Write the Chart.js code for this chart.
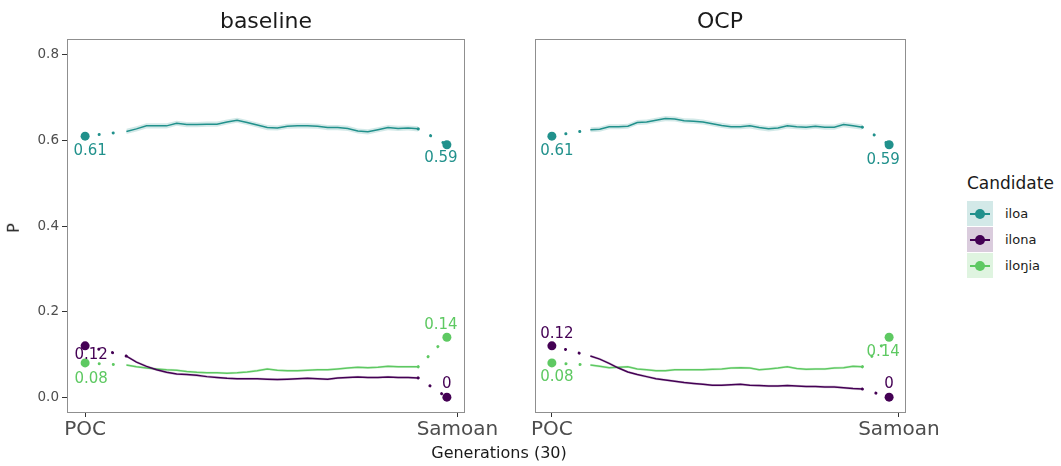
<!DOCTYPE html>
<html>
<head>
<meta charset="utf-8">
<script src="https://cdn.jsdelivr.net/npm/chart.js@4.4.0/dist/chart.umd.min.js"></script>
<style>
body{margin:0;background:#fff;font-family:"DejaVu Sans",sans-serif;}
#wrap{position:relative;width:1061px;height:466px;overflow:hidden;}
canvas{position:absolute;top:0;}
.ttl{position:absolute;top:8px;font-size:22px;line-height:26px;color:#1a1a1a;transform:translateX(-50%);white-space:nowrap;}
#ytitle{position:absolute;left:9px;top:219px;font-size:16px;line-height:18px;transform:rotate(-90deg);color:#1a1a1a;}
#xtitle{position:absolute;left:499px;top:443px;font-size:16px;line-height:20px;transform:translateX(-50%);color:#1a1a1a;white-space:nowrap;}
#legend{position:absolute;left:967px;top:171px;}
#legend .lt{font-size:17px;line-height:24px;color:#1a1a1a;margin-bottom:5px;}
#legend .row{display:flex;align-items:center;height:26px;}
#legend .key{position:relative;width:26px;height:25px;margin-right:12px;}
#legend .key i{position:absolute;left:3px;right:3px;top:12px;height:2px;}
#legend .key b{position:absolute;left:8px;top:8px;width:10px;height:10px;border-radius:50%;}
#legend span{font-size:13px;color:#1a1a1a;}
</style>
</head>
<body>
<div id="wrap">
  <canvas id="cBase" width="520" height="466" style="left:0"></canvas>
  <canvas id="cOcp" width="480" height="466" style="left:475px"></canvas>
  <div class="ttl" style="left:266px">baseline</div>
  <div class="ttl" style="left:720px">OCP</div>
  <div id="ytitle">P</div>
  <div id="xtitle">Generations (30)</div>
  <div id="legend"></div>
</div>
<script>
// data
const candidates = ['iloa', 'ilona', 'iloŋia'];
const generations = [1,2,3,4,5,6,7,8,9,10,11,12,13,14,15,16,17,18,19,20,21,22,23,24,25,26,27,28,29,30];
const pocX = -3.1;
const samoanX = 32.85;
const tickValues = [-3.1, 33.9];
const tickLabels = ['POC', 'Samoan'];
const yTicks = [0, 0.2, 0.4, 0.6, 0.8];

const pocValues = [0.61, 0.12, 0.08];
const samoanValues = [0.59, 0, 0.14];

const baselineIloa = [0.621,0.627,0.634,0.634,0.634,0.640,0.637,0.637,0.638,0.638,0.643,0.647,0.642,0.636,0.630,
  0.629,0.633,0.634,0.634,0.633,0.630,0.630,0.628,0.622,0.620,0.625,0.630,0.628,0.629,0.627];
const baselineIlona = [0.096,0.082,0.072,0.064,0.058,0.054,0.053,0.051,0.048,0.046,0.044,0.043,0.043,0.043,0.042,
  0.041,0.042,0.043,0.044,0.043,0.042,0.045,0.046,0.047,0.046,0.046,0.047,0.046,0.046,0.045];
const baselineIlonia = [0.075,0.071,0.068,0.066,0.064,0.063,0.060,0.058,0.057,0.057,0.056,0.057,0.059,0.062,0.066,
  0.063,0.062,0.062,0.063,0.064,0.064,0.066,0.068,0.070,0.069,0.070,0.072,0.071,0.071,0.071];

const ocpIloa = [0.625,0.626,0.632,0.632,0.633,0.642,0.643,0.647,0.651,0.650,0.646,0.645,0.643,0.639,0.635,
  0.632,0.632,0.634,0.630,0.627,0.629,0.634,0.632,0.631,0.633,0.631,0.631,0.637,0.634,0.631];
const ocpIlona = [0.096,0.089,0.079,0.068,0.059,0.053,0.048,0.043,0.040,0.037,0.034,0.032,0.030,0.028,0.028,
  0.029,0.030,0.028,0.027,0.026,0.026,0.027,0.026,0.025,0.025,0.024,0.024,0.022,0.020,0.019];
const ocpIlonia = [0.075,0.072,0.069,0.070,0.071,0.066,0.064,0.062,0.062,0.064,0.064,0.064,0.064,0.065,0.066,
  0.068,0.069,0.068,0.064,0.066,0.068,0.071,0.067,0.065,0.066,0.066,0.068,0.069,0.072,0.071];

// half width of the shaded band around each line
const bandHalf = [0.006, 0.003, 0.003];

const colors = ['#21918c', '#440154', '#5ec962'];
const bandColors = ['rgba(33,145,140,0.2)', 'rgba(68,1,84,0.2)', 'rgba(94,201,98,0.2)'];

// build legend
const legend = document.getElementById('legend');
legend.innerHTML = '<div class="lt">Candidate</div>' + candidates.map((c, i) =>
  '<div class="row"><div class="key" style="background:' + bandColors[i] + '"><i style="background:' + colors[i] +
  '"></i><b style="background:' + colors[i] + '"></b></div><span>' + c + '</span></div>').join('');

const panelBox = {
  id: 'panelBox',
  afterDatasetsDraw(chart) {
    const a = chart.chartArea, ctx = chart.ctx;
    ctx.save();
    ctx.strokeStyle = '#8f8f8f';
    ctx.lineWidth = 1;
    ctx.strokeRect(Math.round(a.left) + 0.5, Math.round(a.top) + 0.5, Math.round(a.width) - 1, Math.round(a.height) - 1);
    ctx.restore();
  }
};

const valueLabels = {
  id: 'valueLabels',
  afterDatasetsDraw(chart, args, opts) {
    const ctx = chart.ctx, x = chart.scales.x, y = chart.scales.y;
    ctx.save();
    ctx.font = '15px "DejaVu Sans"';
    ctx.textAlign = 'center';
    ctx.textBaseline = 'middle';
    opts.items.forEach(it => {
      ctx.fillStyle = it.color;
      ctx.fillText(it.text, x.getPixelForValue(it.x) + it.dx, y.getPixelForValue(it.y) + it.dy);
    });
    ctx.restore();
  }
};

function makePanel(id, series, showY, padRight, offsets) {
  const datasets = [];
  const items = [];
  series.forEach((vals, i) => {
    const line = vals.map((v, k) => ({x: generations[k], y: v}));
    datasets.push({
      data: vals.map((v, k) => ({x: generations[k], y: v - bandHalf[i]})),
      borderWidth: 0, pointRadius: 0, fill: false
    });
    datasets.push({
      data: vals.map((v, k) => ({x: generations[k], y: v + bandHalf[i]})),
      borderWidth: 0, pointRadius: 0, fill: '-1', backgroundColor: bandColors[i]
    });
    datasets.push({
      data: line, borderColor: colors[i], borderWidth: 1.5, pointRadius: 0, fill: false, tension: 0
    });
    datasets.push({
      data: [{x: pocX, y: pocValues[i]}, line[0], {x: 15, y: null}, line[line.length - 1], {x: samoanX, y: samoanValues[i]}],
      borderColor: colors[i], borderWidth: 3, borderDash: [0.1, 14], borderCapStyle: 'round',
      pointRadius: 0, fill: false, spanGaps: false
    });
    datasets.push({
      data: [{x: pocX, y: pocValues[i]}, {x: samoanX, y: samoanValues[i]}],
      showLine: false, pointRadius: 4.5, pointBorderWidth: 0, backgroundColor: colors[i], pointBackgroundColor: colors[i]
    });
    items.push({x: pocX, y: pocValues[i], text: String(pocValues[i]), color: colors[i], dx: offsets[i][0], dy: offsets[i][1]});
    items.push({x: samoanX, y: samoanValues[i], text: String(samoanValues[i]), color: colors[i], dx: offsets[i + 3][0], dy: offsets[i + 3][1]});
  });

  return new Chart(document.getElementById(id).getContext('2d'), {
    type: 'line',
    data: {datasets: datasets},
    options: {
      responsive: false,
      animation: false,
      layout: {padding: {top: 39, right: padRight, left: showY ? 0 : 60, bottom: 0}},
      plugins: {
        legend: {display: false},
        tooltip: {enabled: false},
        valueLabels: {items: items}
      },
      scales: {
        x: {
          type: 'linear',
          min: -4.9, max: 34.65,
          afterBuildTicks: s => { s.ticks = tickValues.map(v => ({value: v})); },
          afterFit: s => { s.height = 53; s.paddingLeft = 0; s.paddingRight = 0; },
          ticks: {
            callback: (v) => tickLabels[tickValues.indexOf(v)],
            color: '#4d4d4d', font: {family: 'DejaVu Sans', size: 20}, padding: 1, maxRotation: 0, autoSkip: false
          },
          grid: {display: true, drawOnChartArea: false, drawTicks: true, tickLength: 4, color: '#333333'},
          border: {display: false}
        },
        y: {
          display: showY,
          min: -0.037, max: 0.837,
          afterBuildTicks: s => { s.ticks = yTicks.map(v => ({value: v})); },
          afterFit: s => { s.width = showY ? 67 : 0; s.paddingTop = 0; s.paddingBottom = 0; },
          ticks: {
            callback: v => v.toFixed(1),
            color: '#4d4d4d', font: {family: 'DejaVu Sans', size: 13.5}, padding: 3
          },
          grid: {display: true, drawOnChartArea: false, drawTicks: true, tickLength: 5, color: '#333333'},
          border: {display: false}
        }
      }
    },
    plugins: [panelBox, valueLabels]
  });
}

// label offsets: POC iloa, ilona, iloŋia, then Samoan iloa, ilona, iloŋia
makePanel('cBase', [baselineIloa, baselineIlona, baselineIlonia], true, 55,
  [[5, 15], [6, 9], [6, 16], [-6, 13], [0, -13], [-6, -12]]);
makePanel('cOcp', [ocpIloa, ocpIlona, ocpIlonia], false, 49,
  [[5, 15], [5, -12], [5, 14], [-6, 15], [0, -13], [-6, 15]]);
</script>
</body>
</html>
